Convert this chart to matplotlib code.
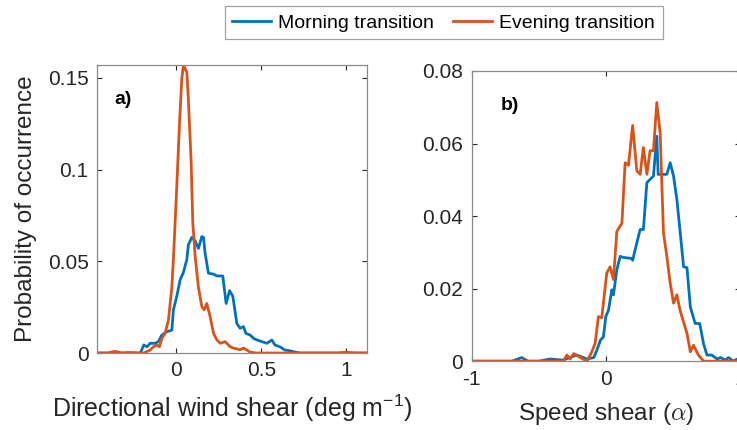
import matplotlib
matplotlib.use("Agg")
import matplotlib.pyplot as plt

plt.rcParams['font.family'] = ['Liberation Sans', 'DejaVu Sans']
plt.rcParams['mathtext.fontset'] = 'custom'
plt.rcParams['mathtext.rm'] = 'Liberation Sans'
plt.rcParams['mathtext.it'] = 'Liberation Sans:italic'

# panel a) directional wind shear (deg m^-1)
dir_x_morning = [-0.46, -0.30, -0.21, -0.19, -0.17, -0.153, -0.124, -0.104, -0.084, -0.055, -0.025,
                 -0.016, 0.004, 0.024, 0.043, 0.063, 0.072, 0.092, 0.112, 0.131, 0.151, 0.161, 0.17,
                 0.19, 0.22, 0.24, 0.274, 0.294, 0.314, 0.333, 0.357, 0.376, 0.396, 0.41, 0.435, 0.455,
                 0.475, 0.504, 0.533, 0.563, 0.58, 0.61, 0.64, 0.67, 0.70, 0.73, 0.9, 1.12]
dir_y_morning = [0, 0, 0, 0.0044, 0.0034, 0.0053, 0.0053, 0.0062, 0.0098, 0.0116, 0.0125,
                 0.0235, 0.031, 0.040, 0.044, 0.051, 0.059, 0.063, 0.061, 0.057, 0.0635, 0.063, 0.0545,
                 0.0435, 0.043, 0.042, 0.042, 0.027, 0.034, 0.031, 0.016, 0.0135, 0.0144, 0.0107, 0.0098, 0.008,
                 0.0071, 0.0062, 0.0053, 0.0071, 0.0044, 0.0034, 0.0016, 0.0012, 0.0005, 0, 0, 0]

dir_x_evening = [-0.46, -0.40, -0.37, -0.35, -0.32, -0.28, -0.22, -0.19, -0.153, -0.133, -0.114, -0.098,
                 -0.084, -0.065, -0.045, -0.025, -0.016, 0.004, 0.019, 0.033, 0.043, 0.053, 0.063, 0.072,
                 0.088, 0.098, 0.112, 0.131, 0.151, 0.165, 0.18, 0.20, 0.22, 0.24, 0.26, 0.288, 0.318,
                 0.336, 0.376, 0.396, 0.435, 0.47, 0.6, 0.8, 0.95, 1.0, 1.05, 1.12]
dir_y_evening = [0, 0, 0.0008, 0.0008, 0, 0.0003, 0, 0, 0.0016, 0.0034, 0.0044, 0.0034,
                 0.008, 0.0107, 0.018, 0.036, 0.051, 0.091, 0.1235, 0.149, 0.157, 0.155, 0.153, 0.138,
                 0.105, 0.0708, 0.0526, 0.036, 0.0253, 0.0235, 0.027, 0.0198, 0.0107, 0.0071, 0.0053, 0.0062, 0.0034,
                 0.0027, 0.0018, 0.0027, 0.0005, 0, 0, 0, 0, 0.0005, 0, 0]

# panel b) speed shear (alpha)
spd_x_morning = [-1.0, -0.70, -0.627, -0.58, -0.50, -0.416, -0.32, -0.216, -0.14, -0.09, -0.067, -0.04,
                 -0.018, 0.0, 0.02, 0.045, 0.057, 0.082, 0.107, 0.131, 0.194, 0.2, 0.231, 0.256, 0.28,
                 0.306, 0.343, 0.355, 0.38, 0.39, 0.43, 0.455, 0.48, 0.505, 0.53, 0.555, 0.58, 0.605,
                 0.63, 0.666, 0.70, 0.728, 0.754, 0.79, 0.83, 0.855, 0.89, 0.915, 0.95, 0.98, 1.0]
spd_y_morning = [0, 0, 0.001, 0, 0, 0.0006, 0.0003, 0.0017, 0.0006, 0.001, 0.003, 0.0058,
                 0.0067, 0.0123, 0.0141, 0.0197, 0.0183, 0.0252, 0.0289, 0.0286, 0.0283, 0.0278, 0.0326, 0.0363, 0.0363,
                 0.0492, 0.0506, 0.051, 0.062, 0.0515, 0.0515, 0.0515, 0.0547, 0.051, 0.0445, 0.0353, 0.026, 0.0258,
                 0.015, 0.0104, 0.0104, 0.0049, 0.0017, 0.0017, 0.0006, 0.001, 0.0003, 0.001, 0, 0.0006, 0]

spd_x_evening = [-1.0, -0.50, -0.316, -0.29, -0.266, -0.24, -0.19, -0.14, -0.104, -0.08, -0.055, -0.03,
                 -0.018, 0.007, 0.032, 0.057, 0.082, 0.12, 0.144, 0.169, 0.2, 0.231, 0.256, 0.28, 0.306,
                 0.33, 0.355, 0.38, 0.405, 0.43, 0.455, 0.48, 0.505, 0.53, 0.555, 0.605, 0.63, 0.654,
                 0.69, 0.73, 0.85, 1.0]
spd_y_evening = [0, 0, 0, 0.0017, 0.0006, 0.0021, 0.001, 0, 0.0026, 0.0049, 0.0123, 0.012,
                 0.016, 0.0243, 0.026, 0.0225, 0.0358, 0.038, 0.0547, 0.054, 0.065, 0.0525, 0.0515, 0.0589, 0.0515,
                 0.058, 0.058, 0.0713, 0.063, 0.0353, 0.0289, 0.0215, 0.016, 0.0183, 0.0138, 0.0077, 0.0026, 0.0044,
                 0.0017, 0, 0, 0]

blue = '#0072BD'
orange = '#D95319'
spine_col = '#8a8a8a'
txt_col = '#262626'

fig = plt.figure(figsize=(7.37, 4.30), dpi=100)
ax1 = fig.add_axes([0.1316, 0.179, 0.366, 0.670])
ax2 = fig.add_axes([0.640, 0.160, 0.364, 0.675])

l1, = ax1.plot(dir_x_morning, dir_y_morning, color=blue, lw=2, label='Morning transition')
l2, = ax1.plot(dir_x_evening, dir_y_evening, color=orange, lw=2, label='Evening transition')
ax2.plot(spd_x_morning, spd_y_morning, color=blue, lw=2)
ax2.plot(spd_x_evening, spd_y_evening, color=orange, lw=2)

ax1.set_xlim(-0.465, 1.12)
ax1.set_ylim(0, 0.157)
ax1.set_xticks([0, 0.5, 1])
ax1.set_xticklabels(['0', '0.5', '1'])
ax1.set_yticks([0, 0.05, 0.1, 0.15])
ax1.set_yticklabels(['0', '0.05', '0.1', '0.15'])

ax2.set_xlim(-1, 1)
ax2.set_ylim(0, 0.08)
ax2.set_xticks([-1, 0, 1])
ax2.set_xticklabels(['-1', '0', '1'])
ax2.set_yticks([0, 0.02, 0.04, 0.06, 0.08])
ax2.set_yticklabels(['0', '0.02', '0.04', '0.06', '0.08'])

for ax in (ax1, ax2):
    for s in ax.spines.values():
        s.set_color(spine_col)
        s.set_linewidth(0.9)
    ax.tick_params(direction='in', length=3.5, width=0.8, color=txt_col,
                   top=True, right=True, labelsize=15, labelcolor=txt_col, pad=6)

ax1.set_ylabel('Probability of occurrence', fontsize=17.5, color=txt_col, labelpad=8)
ax1.set_xlabel('Directional wind shear (deg m$^{-1}$)', fontsize=18, color=txt_col, labelpad=9)
xl = ax2.set_xlabel(r'Speed shear ($\alpha$)', fontsize=17.5, color=txt_col, labelpad=9)
xl.set_math_fontfamily('cm')

ax1.text(0.065, 0.88, 'a)', transform=ax1.transAxes, fontsize=14, fontweight='bold', va='center')
ax2.text(0.11, 0.88, 'b)', transform=ax2.transAxes, fontsize=14, fontweight='bold', va='center')

leg = fig.legend(handles=[l1, l2], loc='upper center', bbox_to_anchor=(0.602, 1.008), ncol=2,
                 fontsize=14, frameon=True, fancybox=False, edgecolor=spine_col,
                 handlelength=2.0, handletextpad=0.35, columnspacing=1.0, borderpad=0.4)
leg.get_frame().set_linewidth(0.9)

fig.savefig('out.png', dpi=100)
